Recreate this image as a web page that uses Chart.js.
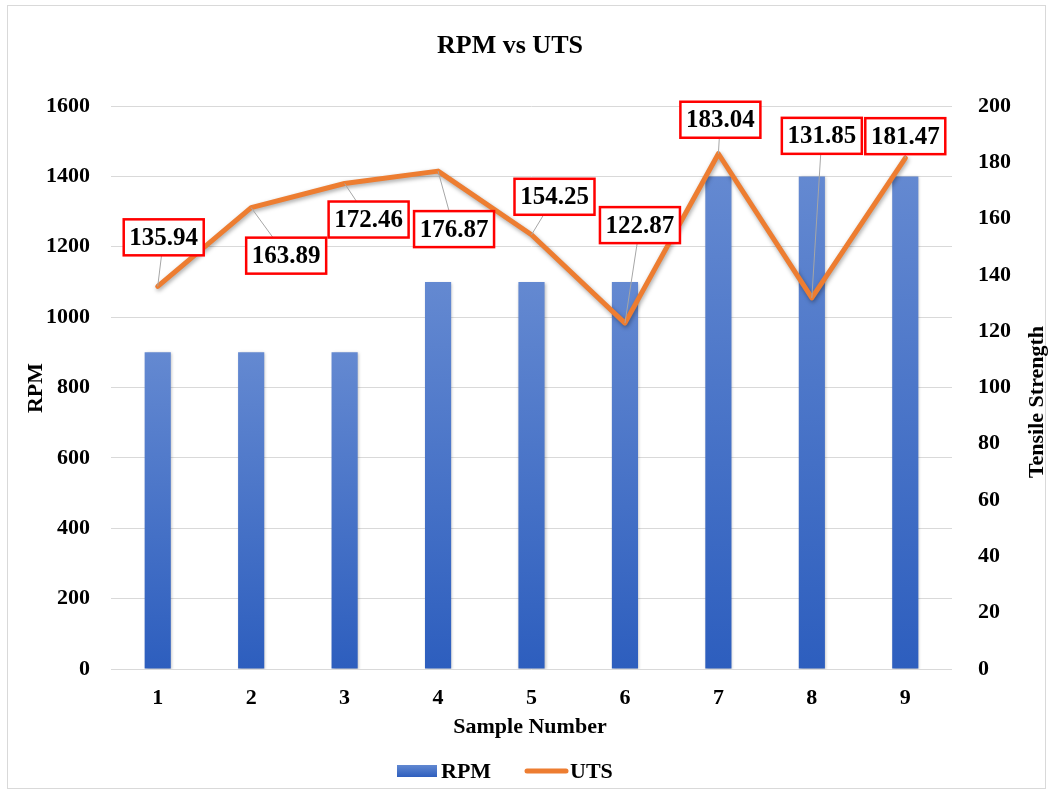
<!DOCTYPE html>
<html><head><meta charset="utf-8">
<script src="https://cdn.jsdelivr.net/npm/chart.js@4.4.0/dist/chart.umd.min.js"></script>
<style>html,body{margin:0;padding:0;background:#fff;overflow:hidden}</style>
</head><body>
<canvas id="c" width="1049" height="793"></canvas>
<script>
const categories = ['1','2','3','4','5','6','7','8','9'];
const rpmValues = [900, 900, 900, 1100, 1100, 1100, 1400, 1400, 1400];
const utsValues = [135.94, 163.89, 172.46, 176.87, 154.25, 122.87, 183.04, 131.85, 181.47];
const utsLabels = ['135.94','163.89','172.46','176.87','154.25','122.87','183.04','131.85','181.47'];
const labelOffsets = [[6,-49],[35,48],[24,36],[16,58],[23,-38],[15,-98],[2,-34],[10,-162],[0,-22]];

const FONT = "'Liberation Serif', 'Times New Roman', serif";

const decor = {
  id: 'decor',
  beforeDraw(chart) {
    const ctx = chart.ctx;
    ctx.save();
    ctx.strokeStyle = '#d9d9d9';
    ctx.lineWidth = 1;
    ctx.strokeRect(7.5, 5.5, 1038, 783);
    ctx.restore();
  },
  beforeDatasetDraw(chart, args) {
    const ctx = chart.ctx;
    ctx.save();
    if (args.index === 1) {
      ctx.shadowColor = 'rgba(0,0,0,0.35)';
      ctx.shadowBlur = 4; ctx.shadowOffsetX = 1; ctx.shadowOffsetY = 2;
    } else {
      ctx.shadowColor = 'rgba(0,0,0,0.25)';
      ctx.shadowBlur = 3; ctx.shadowOffsetX = 1; ctx.shadowOffsetY = 1;
    }
  },
  afterDatasetDraw(chart) { chart.ctx.restore(); },
  afterDatasetsDraw(chart) {
    const ctx = chart.ctx;
    const meta = chart.getDatasetMeta(1);
    ctx.save();
    ctx.font = 'bold 25px ' + FONT;
    ctx.textAlign = 'center';
    ctx.textBaseline = 'middle';
    meta.data.forEach((pt, i) => {
      const cx = pt.x + labelOffsets[i][0];
      const cy = pt.y + labelOffsets[i][1];
      const w = 80, h = 36;
      ctx.strokeStyle = '#a6a6a6';
      ctx.lineWidth = 1;
      ctx.beginPath(); ctx.moveTo(pt.x, pt.y); ctx.lineTo(cx, cy); ctx.stroke();
      ctx.fillStyle = '#ffffff';
      ctx.fillRect(cx - w/2, cy - h/2, w, h);
      ctx.strokeStyle = '#ff0000';
      ctx.lineWidth = 2.5;
      ctx.strokeRect(cx - w/2, cy - h/2, w, h);
      ctx.fillStyle = '#000000';
      ctx.fillText(utsLabels[i], cx, cy + 1);
    });
    // title
    ctx.font = 'bold 26px ' + FONT;
    ctx.fillText('RPM vs UTS', 510, 46);
    // axis titles
    ctx.font = 'bold 22px ' + FONT;
    ctx.fillText('Sample Number', 530, 727);
    ctx.save(); ctx.translate(36, 388); ctx.rotate(-Math.PI/2); ctx.fillText('RPM', 0, 0); ctx.restore();
    ctx.save(); ctx.translate(1037, 402); ctx.rotate(-Math.PI/2); ctx.fillText('Tensile Strength', 0, 0); ctx.restore();
    // legend
    const g = ctx.createLinearGradient(0, 765, 0, 777);
    g.addColorStop(0, '#6188d1'); g.addColorStop(1, '#2f5fbe');
    ctx.fillStyle = g;
    ctx.fillRect(397, 765, 40, 12);
    ctx.fillStyle = '#000';
    ctx.textAlign = 'left';
    ctx.fillText('RPM', 441, 772);
    ctx.strokeStyle = '#ED7D31'; ctx.lineWidth = 5; ctx.lineCap = 'round';
    ctx.beginPath(); ctx.moveTo(527, 771); ctx.lineTo(566, 771); ctx.stroke();
    ctx.fillText('UTS', 570, 772);
    ctx.restore();
  }
};

new Chart(document.getElementById('c'), {
  data: {
    labels: categories,
    datasets: [
      {
        type: 'bar', label: 'RPM', data: rpmValues, yAxisID: 'y', order: 1,
        barPercentage: 0.28, categoryPercentage: 1,
        backgroundColor: (context) => {
          const chart = context.chart;
          const ys = chart.scales.y;
          if (!ys || context.raw === undefined) return '#4472C4';
          const top = ys.getPixelForValue(context.raw);
          const bot = ys.getPixelForValue(0);
          if (!isFinite(top) || !isFinite(bot)) return '#4472C4';
          const g = chart.ctx.createLinearGradient(0, top, 0, bot);
          g.addColorStop(0, '#6489d1');
          g.addColorStop(1, '#2d5ebe');
          return g;
        },
        borderWidth: 0
      },
      {
        type: 'line', label: 'UTS', data: utsValues, yAxisID: 'y1', order: 0,
        borderColor: '#ED7D31', borderWidth: 5, pointRadius: 0, tension: 0,
        borderCapStyle: 'round', borderJoinStyle: 'round', fill: false
      }
    ]
  },
  options: {
    responsive: false, animation: false,
    layout: { padding: { top: 106, left: 10, right: 0, bottom: 0 } },
    plugins: { legend: { display: false }, title: { display: false }, tooltip: { enabled: false } },
    scales: {
      x: {
        grid: { display: false, drawTicks: false }, border: { display: false },
        ticks: { color: '#000', font: { family: FONT, size: 22, weight: 'bold' }, padding: 16 },
        afterFit(s) { s.height = 124; }
      },
      y: {
        position: 'left', min: 0, max: 1600,
        grid: { color: '#d9d9d9', lineWidth: 1, drawTicks: false }, border: { display: false },
        ticks: { stepSize: 200, color: '#000', font: { family: FONT, size: 22, weight: 'bold' }, padding: 21,
                 callback: (v) => String(v) },
        afterFit(s) { s.width = 101; }
      },
      y1: {
        position: 'right', min: 0, max: 200,
        grid: { display: false, drawTicks: false }, border: { display: false },
        ticks: { stepSize: 20, color: '#000', font: { family: FONT, size: 22, weight: 'bold' }, padding: 26,
                 callback: (v) => String(v) },
        afterFit(s) { s.width = 97; }
      }
    }
  },
  plugins: [decor]
});
</script>
</body></html>
